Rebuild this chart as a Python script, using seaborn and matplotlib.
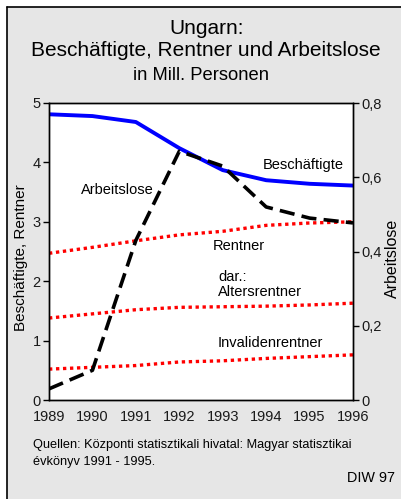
import matplotlib
matplotlib.use("Agg")
import matplotlib.pyplot as plt
import matplotlib.patches as patches
from matplotlib.ticker import FuncFormatter
import pandas as pd
import seaborn as sns

# data (Mill. Personen)
years = [1989, 1990, 1991, 1992, 1993, 1994, 1995, 1996]
beschaeftigte = [4.81, 4.78, 4.68, 4.24, 3.87, 3.70, 3.64, 3.61]
rentner = [2.47, 2.57, 2.68, 2.78, 2.84, 2.94, 2.98, 3.00]
altersrentner = [1.38, 1.45, 1.52, 1.56, 1.57, 1.58, 1.60, 1.63]
invalidenrentner = [0.52, 0.55, 0.58, 0.64, 0.66, 0.70, 0.73, 0.76]
arbeitslose = [0.03, 0.08, 0.43, 0.67, 0.63, 0.52, 0.49, 0.477]

sns.set_theme(style="white")
plt.rcParams['font.family'] = ['Liberation Sans', 'DejaVu Sans']
plt.rcParams['text.color'] = "black"
plt.rcParams['axes.labelcolor'] = "black"

df = pd.DataFrame({"Jahr": years, "Beschäftigte": beschaeftigte, "Rentner": rentner,
                   "Altersrentner": altersrentner, "Invalidenrentner": invalidenrentner,
                   "Arbeitslose": arbeitslose})

fig = plt.figure(figsize=(4.02, 4.99), dpi=100)
fig.patch.set_facecolor("white")
# grey panel with black edge on top and left
fig.patches.append(patches.Rectangle((7 / 402, 0), 1, 1 - 7 / 499, transform=fig.transFigure,
                                     facecolor="#e6e6e6", edgecolor="none", zorder=-5))
fig.lines.append(plt.Line2D([7 / 402, 7 / 402], [0, 1 - 7 / 499], transform=fig.transFigure,
                            color="black", lw=1.2, zorder=-4))
fig.lines.append(plt.Line2D([7 / 402, 1], [1 - 7 / 499, 1 - 7 / 499], transform=fig.transFigure,
                            color="black", lw=1.2, zorder=-4))

ax = fig.add_axes([49 / 402, 99 / 499, 304 / 402, 297 / 499])
ax.set_facecolor("white")
ax2 = ax.twinx()

sns.lineplot(data=df, x="Jahr", y="Beschäftigte", ax=ax, color="#0000ff", lw=2.8)
for col in ["Rentner", "Altersrentner", "Invalidenrentner"]:
    sns.lineplot(data=df, x="Jahr", y=col, ax=ax, color="#ff0000", lw=2.4,
                 linestyle=(0, (1, 1.1)), dash_capstyle="butt")
sns.lineplot(data=df, x="Jahr", y="Arbeitslose", ax=ax2, color="black", lw=2.6,
             linestyle=(0, (4.2, 2.0)), dash_capstyle="butt")

ax.set_xlim(1989, 1996)
ax.set_ylim(0, 5)
ax2.set_ylim(0, 0.8)
ax.set_xticks(years)
ax.set_yticks([0, 1, 2, 3, 4, 5])
ax2.set_yticks([0, 0.2, 0.4, 0.6, 0.8])
ax2.yaxis.set_major_formatter(FuncFormatter(lambda v, p: "0" if v == 0 else f"{v:.1f}".replace(".", ",")))

for a in (ax, ax2):
    for s in a.spines.values():
        s.set_color("black")
        s.set_linewidth(1.0)
ax.tick_params(axis="x", direction="in", length=4, width=1, labelsize=10.5, pad=7,
               color="black", labelcolor="#1a1a1a")
ax.tick_params(axis="y", direction="out", length=4, width=1, labelsize=10.5, pad=2, left=True,
               color="black", labelcolor="#1a1a1a")
ax2.tick_params(axis="y", direction="out", length=4, width=1, labelsize=10.5, pad=2, right=True,
                color="black", labelcolor="#1a1a1a")

ax.set_xlabel("")
ax.set_ylabel("Beschäftigte, Rentner", fontsize=11)
ax.yaxis.set_label_coords(-0.07, 0.478)
ax2.set_ylabel("Arbeitslose", fontsize=11.5, rotation=90)
ax2.yaxis.set_label_coords(1.105, 0.478)

# line labels
ax.text(1989.74, 3.54, "Arbeitslose", fontsize=10.5, va="center")
ax.text(1993.93, 3.96, "Beschäftigte", fontsize=10.5, va="center")
ax.text(1992.78, 2.59, "Rentner", fontsize=10.5, va="center")
ax.text(1992.89, 2.07, "dar.:", fontsize=10.5, va="center")
ax.text(1992.89, 1.82, "Altersrentner", fontsize=10.5, va="center")
ax.text(1992.89, 0.96, "Invalidenrentner", fontsize=10.5, va="center")

fig.text(207 / 402, 1 - 29 / 499, "Ungarn:", ha="center", va="center", fontsize=15)
fig.text(206 / 402, 1 - 51 / 499, "Beschäftigte, Rentner und Arbeitslose", ha="center", va="center", fontsize=15)
fig.text(201 / 402, 1 - 75 / 499, "in Mill. Personen", ha="center", va="center", fontsize=13.2)

fig.text(33 / 402, 1 - 445 / 499, "Quellen: Központi statisztikali hivatal: Magyar statisztikai",
         va="center", fontsize=9.2)
fig.text(33 / 402, 1 - 462 / 499, "évkönyv 1991 - 1995.", va="center", fontsize=9.2)
fig.text(395 / 402, 1 - 478 / 499, "DIW 97", ha="right", va="center", fontsize=10.4)

fig.savefig("out.png", dpi=100, facecolor=fig.get_facecolor())
